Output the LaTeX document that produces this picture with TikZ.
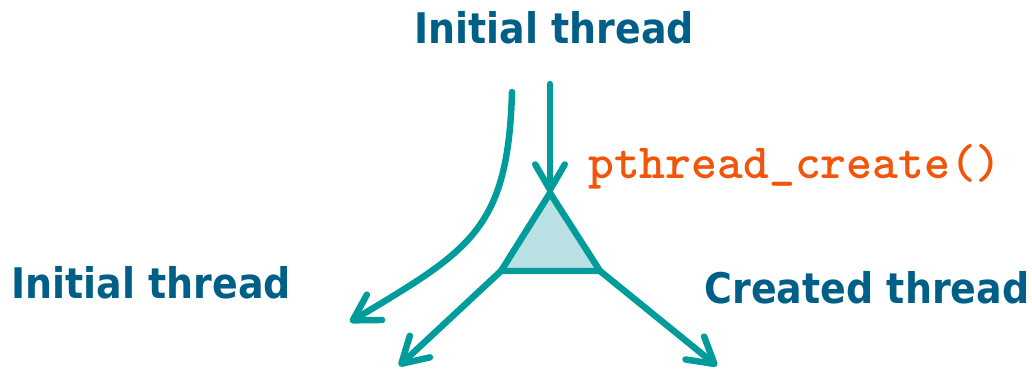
\documentclass[tikz,border=0pt]{standalone}
\usepackage{fontspec}
\setmainfont{DejaVu Sans}[FakeStretch=0.9]
\newfontfamily\callfont{lmmonolt10-bold}[Extension=.otf]
\usetikzlibrary{arrows.meta}

\definecolor{threadblue}{HTML}{005F87}
\definecolor{threadteal}{HTML}{009C9C}
\definecolor{forkfill}{HTML}{B9E0E3}
\definecolor{callorange}{HTML}{F0550A}

\tikzset{
    label/.style={text=threadblue, font=\bfseries\fontsize{30}{33}\selectfont, anchor=base, inner sep=0pt},
    flow/.style={draw=threadteal, line width=4.6pt, line cap=round, line join=round,
        -{Straight Barb[length=18pt, width=21pt, line width=4.6pt, round]}}
}

\begin{document}
\begin{tikzpicture}[x=0.025cm, y=-0.025cm]
    \useasboundingbox (0, 0) rectangle (1032, 369);

    \node[label] (top)   at (554, 43)  {Initial thread};
    \node[label] (left)  at (151, 298) {Initial thread};
    \node[label] (right) at (867, 303) {Created thread};
    \node[text=callorange, font=\callfont\fontsize{35}{37}\selectfont,
        anchor=base west, inner sep=0pt]
        (call) at (588, 178) {pthread\_create()};

    \coordinate (apex) at (550, 193);
    \coordinate (bl)   at (501, 271);
    \coordinate (br)   at (600, 271);

    \draw[fill=forkfill, draw=threadteal, line width=4.6pt, line join=miter]
        (apex) -- (bl) -- (br) -- cycle;

    \coordinate (mainstart) at (512, 92);
    \coordinate (mainend)   at (350, 322);
    \coordinate (forkstart) at (550, 84);
    \coordinate (leftend)   at (399, 366);
    \coordinate (rightend)  at (717, 366);

    \draw[flow] (mainstart) .. controls (508, 230) and (470, 250) .. (mainend);
    \draw[flow] (forkstart) -- (apex);
    \draw[flow] (bl) -- (leftend);
    \draw[flow] (br) -- (rightend);
\end{tikzpicture}
\end{document}
